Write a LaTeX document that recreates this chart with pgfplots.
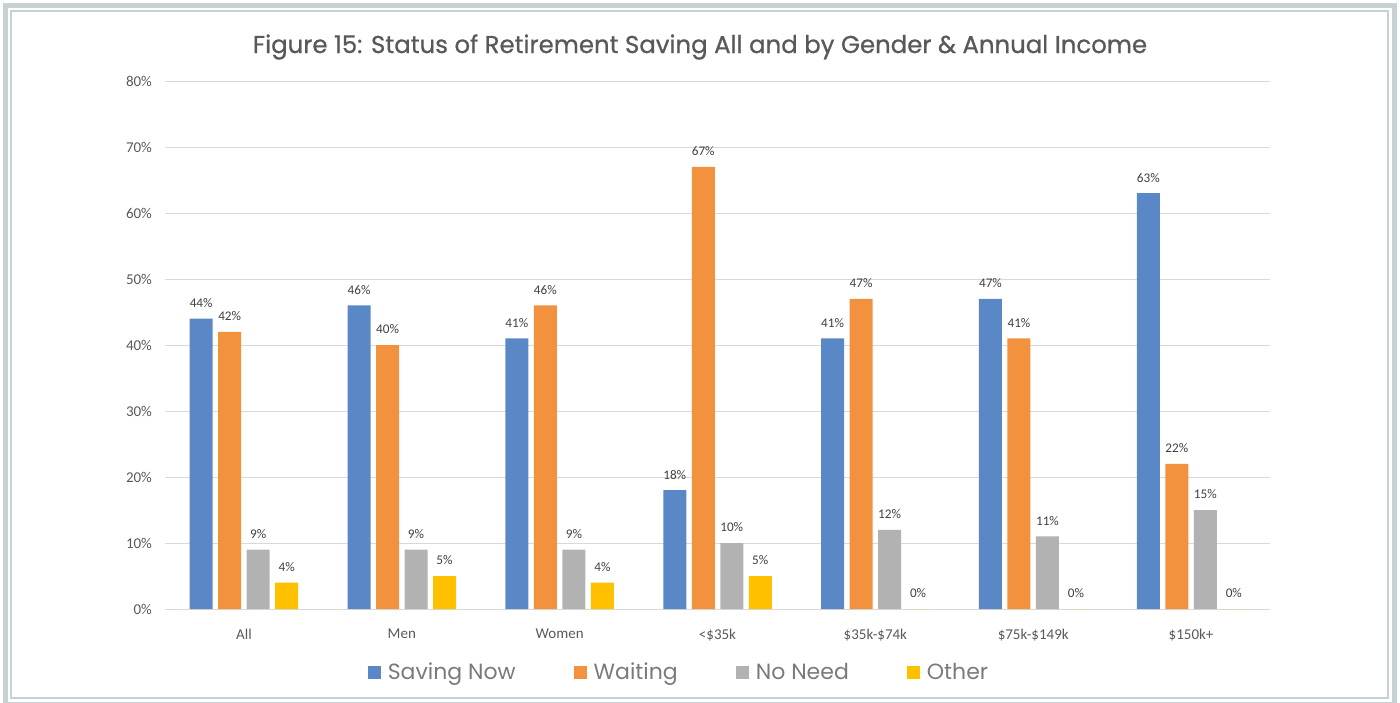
\documentclass[border=0pt]{standalone}
\usepackage{fontspec}
\setmainfont{Carlito}
\newfontfamily\titlefont{Poppins}
\newfontfamily\titlefontb[FakeBold=0.8]{Poppins}
\usepackage{pgfplots}
\pgfplotsset{compat=1.18}
\definecolor{cBlue}{RGB}{90,135,197}
\definecolor{cOrange}{RGB}{242,145,62}
\definecolor{cGray}{RGB}{178,178,178}
\definecolor{cYellow}{RGB}{255,192,0}
\definecolor{gridc}{RGB}{217,217,217}
\definecolor{framec}{RGB}{199,209,211}
\definecolor{txt}{RGB}{89,89,89}
\definecolor{lbl}{RGB}{64,64,64}

\begin{document}
\begin{tikzpicture}[x=0.5pt,y=0.5pt]
\useasboundingbox (0,0) rectangle (1400,702);
% frame
\draw[framec, line width=2.5pt] (5.5,-2) rectangle (1394,696.5);
\draw[framec, line width=0.6pt] (11,4) rectangle (1388,691);
\node[txt, font=\titlefontb\fontsize{12.2}{14}\selectfont] at (700,655) {Figure 15: Status of Retirement Saving All and by Gender \& Annual Income};
\begin{axis}[
    at={(82.5pt,46.5pt)}, anchor=south west,
    width=552.5pt, height=264pt, scale only axis,
    ybar=2.75pt, bar width=11.5pt,
    xmin=-0.5, xmax=6.5, ymin=0, ymax=80,
    xtick=data,
    xticklabels={All, Men, Women, <\$35k, \$35k-\$74k, \$75k-\$149k, \$150k+},
    ytick={0,10,...,80},
    yticklabels={0\%,10\%,20\%,30\%,40\%,50\%,60\%,70\%,80\%},
    ymajorgrids, grid style={gridc, line width=0.5pt},
    axis line style={draw=none}, tick style={draw=none},
    ticklabel style={font=\fontsize{7.5}{9}\selectfont, text=txt},
    yticklabel style={xshift=-3pt},
    xticklabel style={yshift=-2pt},
    /pgf/number format/assume math mode=true,
    nodes near coords={\pgfmathprintnumber{\pgfplotspointmeta}\%},
    every node near coord/.append style={font=\fontsize{6.6}{8}\selectfont, text=lbl, yshift=2pt},
    legend columns=4,
    legend style={at={(0.466,-0.12)}, anchor=center, draw=none, fill=none,
        font=\titlefont\fontsize{11}{13}\selectfont, text=txt!80!white,
        /tikz/every even column/.append style={column sep=27pt}},
    legend image code/.code={\fill[#1] (0pt,-3.25pt) rectangle (6.5pt,3.25pt); \path (0pt,0pt) -- (8pt,0pt);},
]
\addplot[fill=cBlue, draw=none] coordinates {(0,44) (1,46) (2,41) (3,18) (4,41) (5,47) (6,63)};
\addplot[fill=cOrange, draw=none] coordinates {(0,42) (1,40) (2,46) (3,67) (4,47) (5,41) (6,22)};
\addplot[fill=cGray, draw=none] coordinates {(0,9) (1,9) (2,9) (3,10) (4,12) (5,11) (6,15)};
\addplot[fill=cYellow, draw=none] coordinates {(0,4) (1,5) (2,4) (3,5) (4,0) (5,0) (6,0)};
\legend{Saving Now, Waiting, No Need, Other}
\end{axis}
\end{tikzpicture}
\end{document}
